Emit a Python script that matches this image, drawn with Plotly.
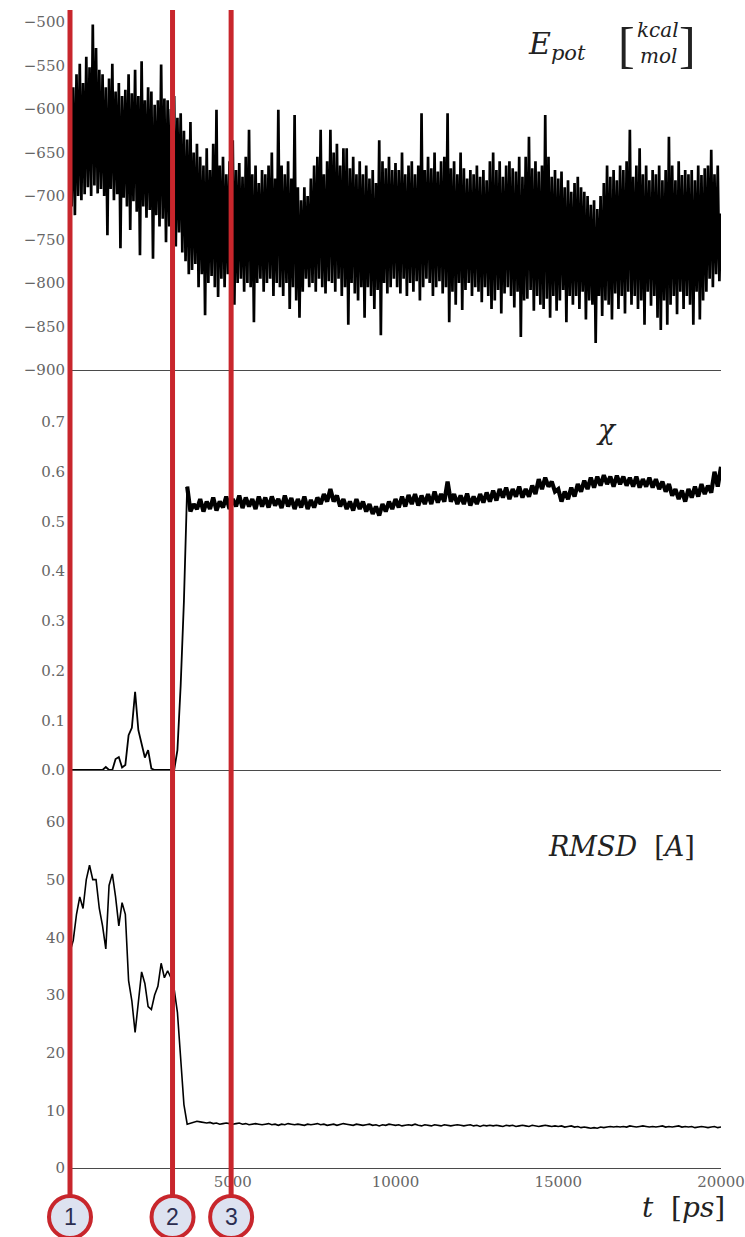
import plotly.graph_objects as go

# ---------------- data ----------------
EPOT_STEP = 50      # ps between Epot samples
SERIES_STEP = 100   # ps between chi / RMSD samples

epot = [
    -565, -712, -575, -722, -560, -700, -548, -705, -570, -698,
    -540, -690, -552, -700, -503, -688, -530, -697, -555, -692,
    -560, -700, -575, -745, -565, -692, -548, -705, -580, -698,
    -570, -760, -585, -702, -578, -712, -560, -739, -582, -706,
    -555, -718, -585, -768, -545, -712, -590, -725, -575, -716,
    -580, -772, -595, -722, -590, -735, -549, -726, -588, -753,
    -590, -735, -600, -745, -585, -758, -610, -742, -605, -765,
    -625, -775, -635, -790, -615, -785, -650, -778, -640, -805,
    -655, -790, -665, -837, -645, -800, -670, -792, -640, -805,
    -601, -816, -665, -795, -655, -805, -675, -790, -660, -800,
    -636, -825, -670, -800, -662, -795, -678, -810, -655, -800,
    -624, -805, -675, -845, -665, -800, -685, -795, -670, -810,
    -675, -800, -665, -795, -650, -815, -680, -800, -601, -805,
    -665, -815, -675, -800, -660, -830, -680, -805, -607, -820,
    -690, -840, -705, -810, -690, -795, -700, -805, -680, -800,
    -665, -810, -655, -795, -624, -805, -675, -812, -660, -798,
    -624, -800, -650, -810, -640, -795, -665, -815, -645, -805,
    -645, -848, -668, -800, -655, -812, -675, -820, -660, -805,
    -675, -840, -665, -805, -680, -815, -670, -830, -685, -808,
    -636, -860, -660, -800, -668, -812, -655, -805, -670, -795,
    -662, -805, -670, -812, -650, -795, -675, -815, -665, -800,
    -660, -810, -675, -798, -665, -820, -605, -805, -670, -795,
    -655, -800, -668, -815, -650, -805, -672, -798, -660, -812,
    -655, -805, -605, -845, -668, -810, -660, -825, -675, -800,
    -650, -831, -668, -808, -680, -800, -670, -815, -675, -805,
    -665, -810, -678, -822, -670, -805, -682, -815, -660, -830,
    -650, -820, -670, -808, -660, -835, -678, -812, -665, -805,
    -660, -815, -668, -828, -672, -810, -655, -862, -678, -820,
    -655, -818, -632, -808, -668, -832, -660, -815, -672, -825,
    -665, -830, -607, -818, -655, -840, -678, -815, -670, -832,
    -680, -820, -672, -808, -690, -845, -682, -815, -695, -825,
    -685, -815, -678, -830, -690, -810, -695, -842, -700, -820,
    -710, -825, -705, -869, -715, -815, -700, -838, -685, -820,
    -665, -825, -678, -842, -670, -812, -682, -830, -665, -815,
    -670, -835, -660, -810, -624, -825, -678, -815, -665, -830,
    -645, -820, -675, -848, -665, -810, -682, -826, -670, -815,
    -675, -840, -665, -854, -682, -820, -670, -848, -632, -825,
    -665, -815, -682, -836, -660, -810, -676, -830, -670, -815,
    -675, -825, -670, -848, -682, -810, -665, -842, -676, -820,
    -668, -810, -665, -795, -647, -805, -675, -790, -665, -798,
    -720,
]

chi = [
    0, 0, 0, 0, 0, 0, 0, 0, 0, 0,
    0, 0.006, 0, 0, 0.022, 0.026, 0.005, 0.01, 0.07, 0.085,
    0.157, 0.08, 0.05, 0.025, 0.04, 0.003, 0, 0, 0, 0,
    0, 0, 0, 0.04, 0.17, 0.34, 0.57, 0.52, 0.535, 0.525,
    0.545, 0.52, 0.54, 0.525, 0.548, 0.522, 0.54, 0.528, 0.55, 0.525,
    0.545, 0.53, 0.552, 0.527, 0.548, 0.53, 0.545, 0.525, 0.55, 0.53,
    0.548, 0.528, 0.55, 0.532, 0.545, 0.527, 0.552, 0.53, 0.547, 0.525,
    0.545, 0.528, 0.55, 0.525, 0.543, 0.528, 0.548, 0.535, 0.555, 0.54,
    0.565, 0.54, 0.552, 0.53, 0.545, 0.525, 0.54, 0.522, 0.545, 0.525,
    0.54, 0.52, 0.535, 0.515, 0.53, 0.512, 0.535, 0.52, 0.54, 0.525,
    0.545, 0.528, 0.55, 0.53, 0.553, 0.535, 0.555, 0.532, 0.552, 0.535,
    0.555, 0.535, 0.56, 0.538, 0.555, 0.54, 0.58, 0.54, 0.555, 0.535,
    0.552, 0.535, 0.556, 0.532, 0.55, 0.535, 0.555, 0.538, 0.558, 0.54,
    0.562, 0.542, 0.565, 0.548, 0.568, 0.545, 0.565, 0.55, 0.57, 0.548,
    0.565, 0.55, 0.572, 0.555, 0.585, 0.565, 0.588, 0.57, 0.58, 0.56,
    0.565, 0.54, 0.56, 0.545, 0.568, 0.55, 0.575, 0.56, 0.582, 0.565,
    0.588, 0.568, 0.59, 0.572, 0.593, 0.575, 0.59, 0.57, 0.592, 0.575,
    0.59, 0.572, 0.588, 0.57, 0.59, 0.568, 0.585, 0.57, 0.588, 0.568,
    0.585, 0.565, 0.58, 0.56, 0.575, 0.552, 0.565, 0.545, 0.562, 0.54,
    0.565, 0.548, 0.57, 0.55, 0.575, 0.555, 0.572, 0.558, 0.6, 0.57,
    0.61,
]
CHI_PLATEAU_START = 36   # index where the chi plateau (thick noisy band) begins

rmsd = [
    37.5, 39.5, 44, 47, 45, 50, 52.5, 50, 50, 45,
    42, 38, 49, 51, 47, 42, 46, 44, 32.5, 29,
    23.5, 29, 34, 32, 28, 27.5, 30, 31.5, 35.5, 33,
    34.2, 33, 31, 27, 19, 11, 7.6, 7.8, 8.0, 8.1,
    8.0, 7.9, 7.8, 7.9, 7.7, 7.8, 7.6, 7.7, 7.8, 7.7,
    7.6, 7.7, 7.8, 7.6, 7.7, 7.5, 7.6, 7.7, 7.6, 7.5,
    7.6, 7.7, 7.5, 7.6, 7.4, 7.6, 7.5, 7.7, 7.6, 7.5,
    7.6, 7.5, 7.4, 7.6, 7.5, 7.6, 7.7, 7.5, 7.6, 7.4,
    7.5, 7.6, 7.4, 7.5, 7.7, 7.6, 7.5, 7.4, 7.6, 7.5,
    7.4, 7.5, 7.6, 7.4, 7.5, 7.3, 7.5, 7.4, 7.6, 7.5,
    7.4, 7.5, 7.3, 7.4, 7.5, 7.4, 7.6, 7.4, 7.3, 7.5,
    7.4, 7.3, 7.5, 7.4, 7.3, 7.5, 7.4, 7.3, 7.4, 7.5,
    7.4, 7.3, 7.4, 7.5, 7.3, 7.4, 7.2, 7.4, 7.3, 7.4,
    7.3, 7.4, 7.3, 7.2, 7.4, 7.3, 7.4, 7.2, 7.3, 7.4,
    7.3, 7.2, 7.4, 7.3, 7.2, 7.3, 7.4, 7.3, 7.2, 7.3,
    7.2, 7.3, 7.1, 7.2, 7.3, 7.1, 7.2, 7.0, 7.1, 7.0,
    6.9, 7.0, 6.9, 7.1, 7.0, 7.1, 7.2, 7.1, 7.2, 7.1,
    7.2, 7.1, 7.3, 7.2, 7.1, 7.2, 7.3, 7.2, 7.1, 7.2,
    7.1, 7.2, 7.3, 7.1, 7.2, 7.1, 7.2, 7.3, 7.1, 7.2,
    7.1, 7.2, 7.0, 7.1, 7.2, 7.1, 7.0, 7.1, 7.2, 7.0,
    7.1,
]

event_t = [0, 3150, 4950]          # ps, red markers
event_labels = ["1", "2", "3"]

x_ticks = [5000, 10000, 15000, 20000]
epot_ticks = [-900, -850, -800, -750, -700, -650, -600, -550, -500]
chi_ticks = [0.0, 0.1, 0.2, 0.3, 0.4, 0.5, 0.6, 0.7]
rmsd_ticks = [0, 10, 20, 30, 40, 50, 60]

T_MAX = 20000

epot_t = [i * EPOT_STEP for i in range(len(epot))]
chi_t = [i * SERIES_STEP for i in range(len(chi))]
rmsd_t = [i * SERIES_STEP for i in range(len(rmsd))]

# ---------------- layout geometry (pixels) ----------------
W, H = 745, 1237
ML, MR, MT, MB = 70, 24, 0, 69
PW, PH = W - ML - MR, H - MT - MB


def px(xp):
    return (xp - ML) / PW


def py(yp):
    return (H - MB - yp) / PH


SERIF = "DejaVu Serif"
TICK_FONT = dict(family=SERIF, size=15, color="#666666")
AXLINE = "#4a4a4a"
RED = "#c8262c"

k = CHI_PLATEAU_START
fig = go.Figure()
fig.add_trace(go.Scatter(x=epot_t, y=epot, mode="lines",
                         line=dict(color="black", width=2.7),
                         xaxis="x", yaxis="y", showlegend=False))
fig.add_trace(go.Scatter(x=chi_t[:k + 1], y=chi[:k + 1], mode="lines",
                         line=dict(color="black", width=1.8),
                         xaxis="x2", yaxis="y2", showlegend=False))
fig.add_trace(go.Scatter(x=chi_t[k:], y=chi[k:], mode="lines",
                         line=dict(color="black", width=4.2),
                         xaxis="x2", yaxis="y2", showlegend=False))
fig.add_trace(go.Scatter(x=rmsd_t, y=rmsd, mode="lines",
                         line=dict(color="black", width=1.6),
                         xaxis="x3", yaxis="y3", showlegend=False))

common_x = dict(range=[0, T_MAX], showgrid=False, zeroline=False,
                showline=True, linecolor=AXLINE, linewidth=1.3, ticks="")
common_y = dict(showgrid=False, zeroline=False, showline=False, ticks="",
                tickfont=TICK_FONT, ticklabelstandoff=4)

d_top = [py(370), 1.0]
d_mid = [py(770), py(370)]
d_bot = [0.0, py(770)]

fig.update_layout(
    width=W, height=H,
    margin=dict(l=ML, r=MR, t=MT, b=MB, pad=0),
    paper_bgcolor="white", plot_bgcolor="white",
    xaxis=dict(common_x, domain=[0, 1], anchor="y", showticklabels=False),
    xaxis2=dict(common_x, domain=[0, 1], anchor="y2", showticklabels=False,
                matches="x"),
    xaxis3=dict(common_x, domain=[0, 1], anchor="y3", tickvals=x_ticks,
                tickformat="d", tickfont=TICK_FONT, ticklabelstandoff=0,
                matches="x"),
    yaxis=dict(common_y, domain=d_top, anchor="x",
               range=[-900, -900 + 400 * 370 / 348], tickvals=epot_ticks),
    yaxis2=dict(common_y, domain=d_mid, anchor="x2",
                range=[0, 0.7 * 400 / 348], tickvals=chi_ticks,
                tickformat=".1f"),
    yaxis3=dict(common_y, domain=d_bot, anchor="x3",
                range=[0, 60 * 398 / 346], tickvals=rmsd_ticks),
)

# ---------------- event markers (red lines + numbered circles) ----------------
CIRCLE_Y = 1217
R_CIRC = 21
for t, lab in zip(event_t, event_labels):
    xp = t / T_MAX
    fig.add_shape(type="line", xref="paper", yref="paper",
                  x0=xp, x1=xp, y0=py(CIRCLE_Y - R_CIRC), y1=py(10),
                  line=dict(color=RED, width=5), layer="above")
    fig.add_shape(type="circle", xref="paper", yref="paper",
                  xsizemode="pixel", ysizemode="pixel",
                  xanchor=xp, yanchor=py(CIRCLE_Y),
                  x0=-R_CIRC, x1=R_CIRC, y0=-R_CIRC, y1=R_CIRC,
                  line=dict(color=RED, width=4), fillcolor="#dde2f0",
                  layer="above")
    fig.add_annotation(x=xp, y=py(CIRCLE_Y), xref="paper", yref="paper",
                       text=lab, showarrow=False, xanchor="center",
                       yanchor="middle",
                       font=dict(family="Liberation Sans", size=23,
                                 color="#2b2d50"))

# ---------------- panel labels ----------------
LBL = "#222222"


def label(text, xp, yp, size, xanchor="left", family=SERIF):
    fig.add_annotation(x=px(xp), y=py(yp), xref="paper", yref="paper",
                       text=text, showarrow=False, xanchor=xanchor,
                       yanchor="middle",
                       font=dict(family=family, size=size, color=LBL))


label("<i>E</i><sub><i>pot</i></sub>", 526, 46, 30)
label("[", 626, 45, 50, "center", "Liberation Serif")
label("<i>kcal</i>", 658, 30, 20, "center")
label("<i>mol</i>", 658, 56, 20, "center")
label("]", 687, 45, 50, "center", "Liberation Serif")
label("<i>χ</i>", 606, 430, 28, "center")
label("<i>RMSD</i>  [<i>A</i>]", 546, 846, 27)
label("<i>t</i>  [<i>ps</i>]", 640, 1207, 28)

fig.write_html("out.html", post_script="document.body.style.margin='0';",
               config={"displayModeBar": False})
